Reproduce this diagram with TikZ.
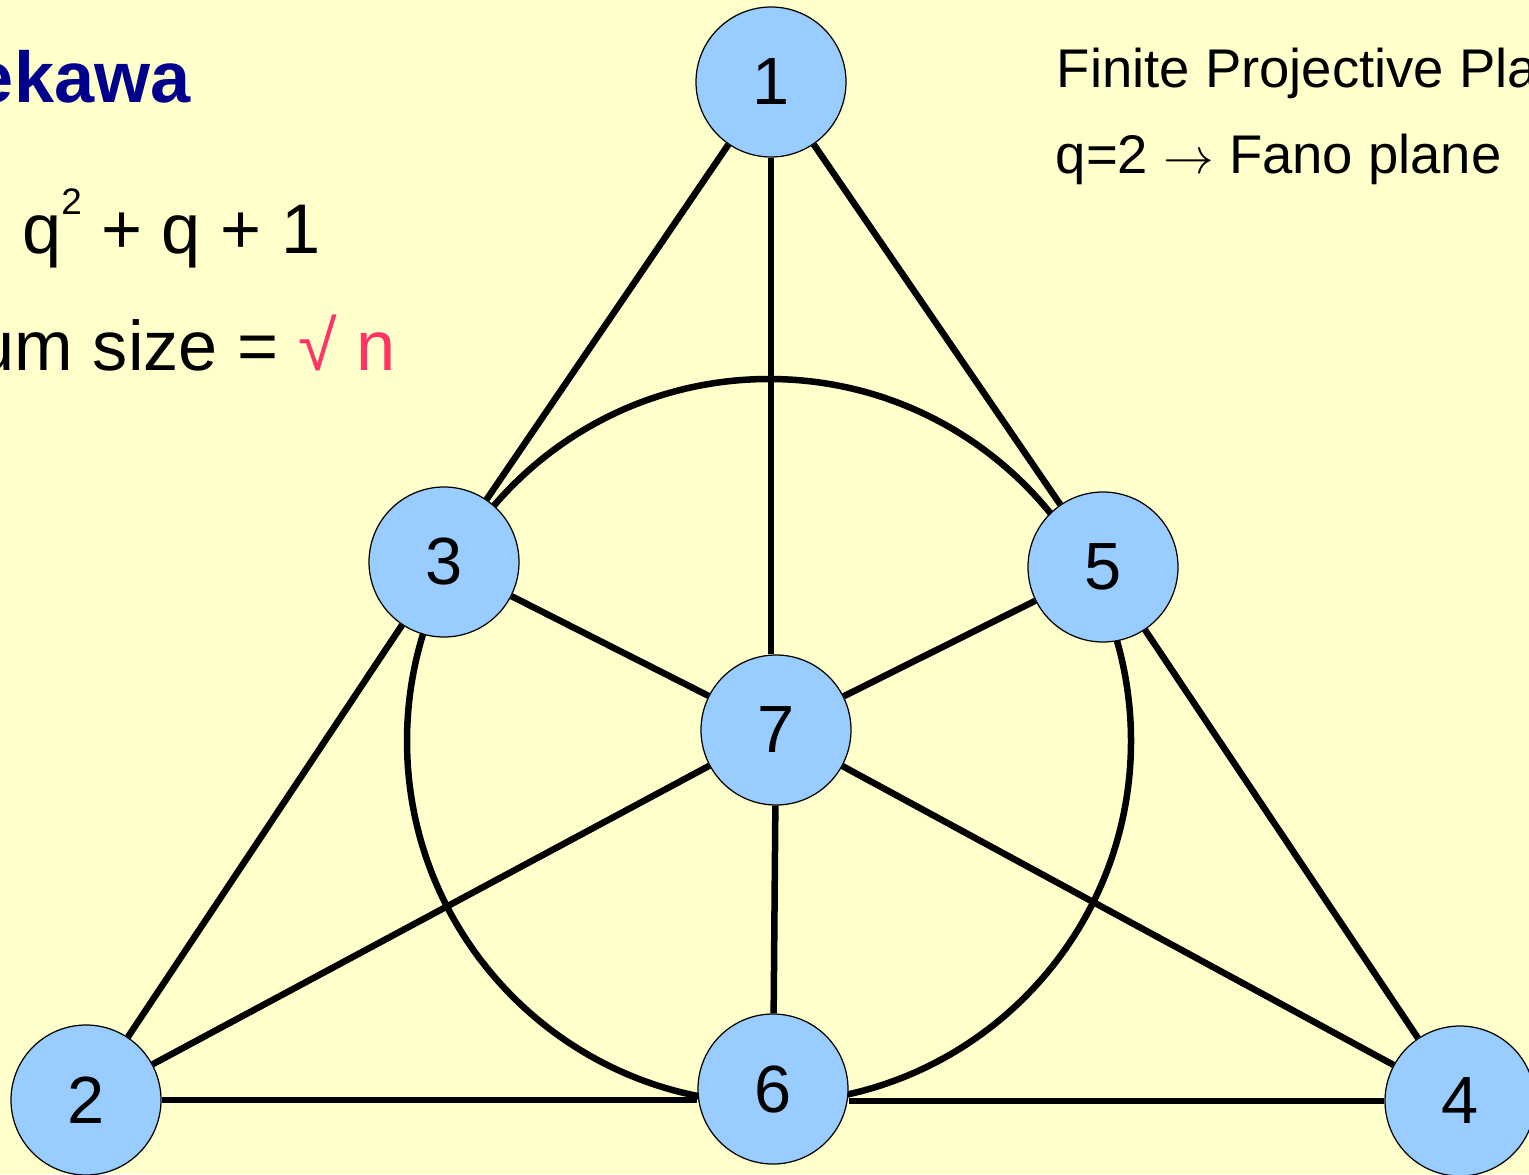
\documentclass[tikz,border=0pt]{standalone}
\usepackage{fontspec}
\setmainfont{Liberation Sans}
\definecolor{bgyellow}{RGB}{255,255,204}
\definecolor{ptblue}{RGB}{153,204,255}
\definecolor{titleblue}{RGB}{0,0,140}
\definecolor{rootred}{RGB}{255,51,102}

\begin{document}
\begin{tikzpicture}[x=0.1mm, y=-0.1mm, line join=round]
  \tikzset{
    fanoline/.style={line width=1.85pt, draw=black},
    fanopt/.style={circle, minimum size=15mm, inner sep=0pt, fill=ptblue, draw=black, line width=0.35pt,
      font=\fontsize{19pt}{21pt}\selectfont},
    bigtext/.style={inner sep=0pt, font=\fontsize{20pt}{24pt}\selectfont},
    sidetext/.style={inner sep=0pt, font=\fontsize{15.5pt}{18pt}\selectfont}
  }

  % Background
  \fill[bgyellow] (0,0) rectangle (1529,1174);
  \useasboundingbox (0,0) rectangle (1529,1174);
  \clip (0,0) rectangle (1529,1174);

  % Text on the left
  \node[bigtext, anchor=base east, text=titleblue, font=\fontsize{20.5pt}{24pt}\selectfont\bfseries] (title) at (191,103) {ekawa};
  \node[bigtext, anchor=base east] (count) at (321,253) {= q\raisebox{0.55em}{\fontsize{10.5pt}{12pt}\selectfont 2} + q + 1};
  \node[bigtext, anchor=base east] (size) at (396,370) {um size = {\color{rootred}√ n}};

  % Text on the right
  \node[sidetext, anchor=base west] (plane) at (1056,88) {Finite Projective Pla};
  \node[sidetext, anchor=base west] (fano) at (1055,174) {q=2 $\rightarrow$ Fano plane};

  % Inner line: the circle
  \coordinate (ring_center) at (769,741);
  \draw[fanoline] (ring_center) circle (362);

  % Points
  \coordinate (P1_pos) at (771,82);
  \coordinate (P2_pos) at (86,1100);
  \coordinate (P3_pos) at (444,562);
  \coordinate (P4_pos) at (1460,1101);
  \coordinate (P5_pos) at (1103,567);
  \coordinate (P6_pos) at (773,1089);
  \coordinate (P7_pos) at (776,730);
  \node[fanopt] (P1) at (P1_pos) {1};
  \node[fanopt] (P2) at (P2_pos) {2};
  \node[fanopt] (P3) at (P3_pos) {3};
  \node[fanopt] (P4) at (P4_pos) {4};
  \node[fanopt] (P5) at (P5_pos) {5};
  \node[fanopt] (P6) at (P6_pos) {6};
  \node[fanopt] (P7) at (P7_pos) {7};

  % Sides of the triangle
  \draw[fanoline] (P1) -- (P3);
  \draw[fanoline] (P3) -- (P2);
  \draw[fanoline] (P1) -- (P5);
  \draw[fanoline] (P5) -- (P4);
  \draw[fanoline] (P2.east) -- (P2.east -| P6.west);
  \draw[fanoline] (P4.west) -- (P4.west -| P6.east);

  % Lines through the centre
  \draw[fanoline] (P1.south) -- (P1.south |- P7.north);
  \draw[fanoline] (P7) -- (P6);
  \draw[fanoline] (P3) -- (P7);
  \draw[fanoline] (P7) -- (P4);
  \draw[fanoline] (P5) -- (P7);
  \draw[fanoline] (P7) -- (P2);

\end{tikzpicture}
\end{document}
